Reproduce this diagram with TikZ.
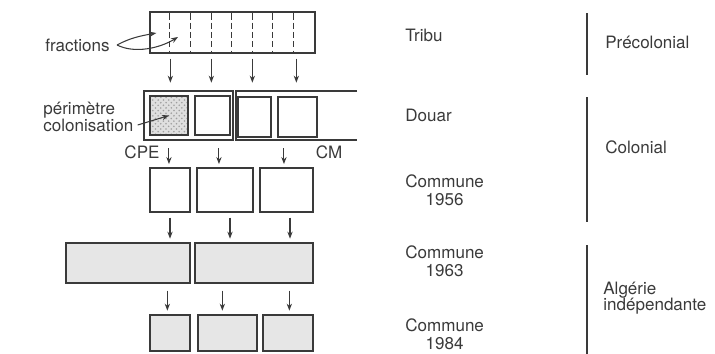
\documentclass[tikz,border=0pt]{standalone}
\usepackage{fontspec}
\setmainfont{TeX Gyre Heros}
\usepackage{tikz}
\usetikzlibrary{arrows.meta, positioning, patterns}

\definecolor{encre}{HTML}{3A3A3A}
\definecolor{grisclair}{HTML}{E6E6E6}

\begin{document}
\begin{tikzpicture}[x=0.02cm, y=-0.02cm, every node/.style={text=encre, font=\fontsize{9.7}{10.2}\selectfont}]
            \tikzstyle{case} = [draw=encre, rectangle, line width=0.75pt, inner sep=0pt, minimum height=0.8cm]
            \tikzstyle{casegrise} = [case, fill=grisclair]
            \tikzstyle{fleche} = [draw=encre, line width=0.6pt, -{Stealth[length=4pt, width=3pt]}]
            \tikzstyle{barre} = [draw=encre, line width=1.1pt]
            \tikzstyle{etiquette} = [anchor=west, align=center, inner sep=0pt]
            \useasboundingbox (0,0) rectangle (715,353);

            % Tribu
            \node[case, minimum width=3.3cm, minimum height=0.82cm] (tribu) at (232.5,32.5) {};
            \foreach \k in {1,...,7}
                \draw[encre, dash pattern=on 3.5pt off 1.8pt, line width=0.6pt] ([shift={(\k*20.6,2)}]tribu.north west) -- ([shift={(\k*20.6,-2)}]tribu.south west);
            \foreach \dx in {21,62,103,147}
                \draw[fleche] ([shift={(\dx,5)}]tribu.south west) -- ++(0,24);

            % Douar
            \node[case, line width=1.2pt, minimum width=1.78cm, minimum height=0.98cm] (cpe) at (188.5,115.5) {};
            \coordinate (cmhaut) at (236,91);
            \coordinate (cmbas) at (236,140);
            \draw[encre, line width=1.2pt] (357,91) -- (cmhaut) -- (cmbas) -- (357,140);
            \node[case, minimum width=0.76cm, minimum height=0.78cm, preaction={fill=gray!25}, pattern=crosshatch dots, pattern color=gray!75] (perim) at (169,115.5) {};
            \node[case, minimum width=0.7cm, minimum height=0.78cm] (d2) at (212.5,115.5) {};
            \node[case, minimum width=0.66cm, minimum height=0.8cm] (d3) at (254.5,117) {};
            \node[case, minimum width=0.78cm, minimum height=0.8cm] (d4) at (297.5,117) {};
            \node[inner sep=0pt] (lcpe) at (142,152) {CPE};
            \node[inner sep=0pt] (lcm) at (329,152) {CM};
            \foreach \dx in {26,76,141}
                \draw[fleche] ([shift={(\dx,7)}]cpe.south west) -- ++(0,16);

            % Commune 1956
            \node[case, minimum width=0.8cm, minimum height=0.88cm] (a1) at (170,190) {};
            \node[case, minimum width=1.12cm, minimum height=0.88cm] (a2) at (225,190) {};
            \node[case, minimum width=1.06cm, minimum height=0.88cm] (a3) at (286.5,190) {};
            \draw[fleche] ([shift={(0,5)}]a1.south) -- ++(0,21);
            \draw[fleche] ([shift={(5,5)}]a2.south) -- ++(0,21);
            \draw[fleche] ([shift={(3.5,5)}]a3.south) -- ++(0,21);

            % Commune 1963
            \node[casegrise, minimum width=2.48cm] (b1) at (128,263) {};
            \node[casegrise, minimum width=2.36cm] (b2) at (254,263) {};
            \draw[fleche] ([shift={(102,7)}]b1.south west) -- ++(0,20);
            \draw[fleche] ([shift={(28,7)}]b2.south west) -- ++(0,20);
            \draw[fleche] ([shift={(95,7)}]b2.south west) -- ++(0,20);

            % Commune 1984
            \node[casegrise, minimum width=0.8cm, minimum height=0.72cm] (c1) at (170,333) {};
            \node[casegrise, minimum width=1.18cm, minimum height=0.72cm] (c2) at (227.5,333) {};
            \node[casegrise, minimum width=1.0cm, minimum height=0.72cm] (c3) at (288,333) {};

            % legendes gauche
            \node[anchor=east, inner sep=0pt] (fractions) at (110,45) {fractions};
            \draw[encre, line width=0.6pt, -{Stealth[length=4pt, width=3pt]}] ([xshift=4pt]fractions.east) .. controls (130,38) and (140,36) .. ([shift={(7,0)}]tribu.west |- 0,33);
            \draw[encre, line width=0.6pt, -{Stealth[length=4pt, width=3pt]}] ([xshift=4pt]fractions.east) .. controls (135,54) and (160,48) .. (178,37);
            \node[anchor=west, align=left, inner sep=0pt, font=\fontsize{9.7}{9.5}\selectfont] (perimlbl) at (43,117) {périmètre\\colonisation};
            \draw[encre, line width=0.6pt, -{Stealth[length=4pt, width=3pt]}] ([shift={(4,8)}]perimlbl.east) -- (perim.center);

            % niveaux
            \node[etiquette] (ltribu) at (405,35) {Tribu};
            \node[etiquette] (ldouar) at (405,115) {Douar};
            \node[etiquette] (l56) at (405,190) {Commune\\1956};
            \node[etiquette] (l63) at (405,261) {Commune\\1963};
            \node[etiquette] (l84) at (405,334) {Commune\\1984};

            % periodes
            \draw[barre] (587,13) -- (587,75);
            \draw[barre] (587,97) -- (587,222);
            \draw[barre] (587,245) -- (587,355);
            \node[etiquette] (pre) at (605,42) {Précolonial};
            \node[etiquette] (col) at (605,147) {Colonial};
            \node[anchor=west, align=left, inner sep=0pt, font=\fontsize{9.7}{9.2}\selectfont] (alg) at (603,298) {Algérie\\indépendante};
        \end{tikzpicture}
\end{document}
